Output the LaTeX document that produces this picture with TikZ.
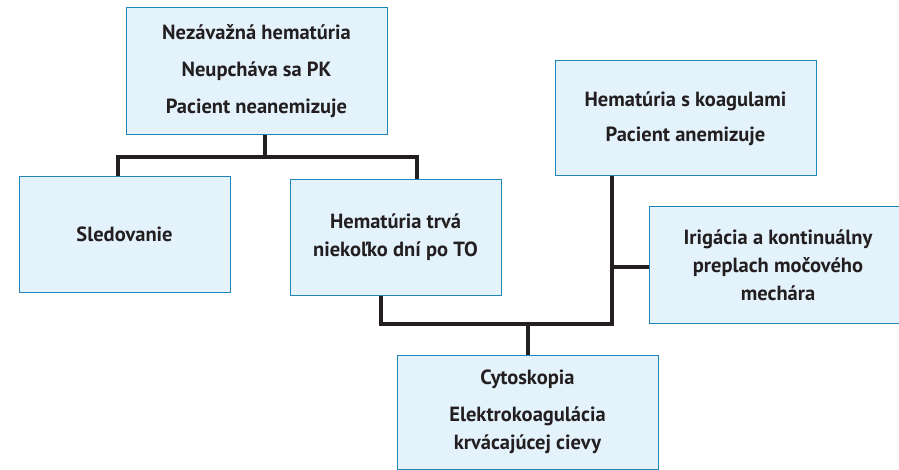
\documentclass[tikz,border=0pt]{standalone}
\usepackage{fontspec}
\setmainfont{PT Sans}
\definecolor{boxfill}{HTML}{E4F2FC}
\definecolor{boxline}{HTML}{2185B5}
\definecolor{linkc}{HTML}{231F20}
\begin{document}
\begin{tikzpicture}[x=1pt,y=-1pt,
  box/.style={draw=boxline,fill=boxfill,line width=1pt,inner sep=0pt,align=center,
    font=\bfseries\fontsize{20.5}{28}\selectfont,text=linkc},
  link/.style={draw=linkc,line width=4pt}]
\useasboundingbox (0,0) rectangle (899,470);
\node[box,minimum width=261,minimum height=127] (top) at (256.5,71.5)
  {Nezávažná hematúria\\[9pt]Neupcháva sa PK\\[9pt]Pacient neanemizuje};
\node[box,minimum width=211,minimum height=115] (sled) at (124.5,234.5) {Sledovanie};
\node[box,minimum width=211,minimum height=115] (trva) at (395.5,237.5)
  {Hematúria trvá\\niekoľko dní po TO};
\node[box,minimum width=261,minimum height=115] (koag) at (685.5,118.5)
  {Hematúria s koagulami\\[7pt]Pacient anemizuje};
\node[box,minimum width=258,minimum height=116] (irig) at (778,265)
  {Irigácia a kontinuálny\\preplach močového\\mechára};
\node[box,minimum width=261,minimum height=114] (cyto) at (527.5,412)
  {Cytoskopia\\[9pt]Elektrokoagulácia\\krvácajúcej cievy};
\coordinate (j1) at (265,157);
\coordinate (j2) at (528,324);
\coordinate (j3) at (612,267);
\draw[link] (top.south -| j1) -- (j1);
\draw[link] (sled.north -| 118,0) |- (j1) -| (trva.north -| 417,0);
\draw[link] (trva.south -| 381,0) |- (j2) -| (koag.south -| 612,0);
\draw[link] (j2) -- (cyto.north -| j2);
\draw[link] (j3) -- (irig.west |- j3);
\end{tikzpicture}
\end{document}
